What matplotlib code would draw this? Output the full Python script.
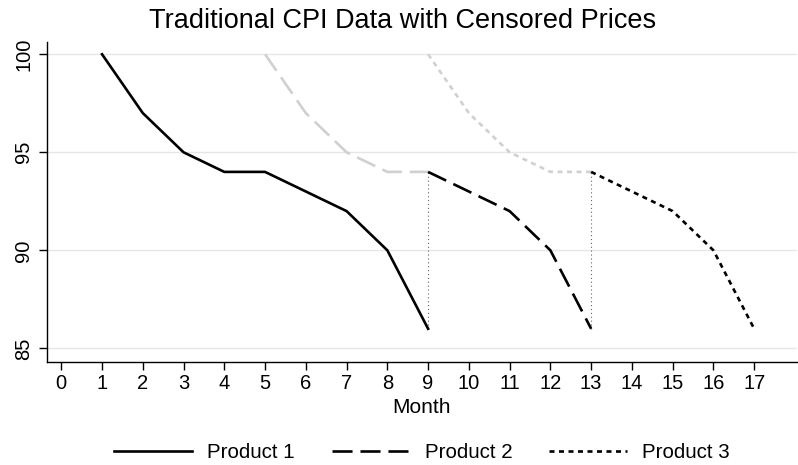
import numpy as np
import matplotlib
matplotlib.use('Agg')
import matplotlib.pyplot as plt

plt.rcParams['font.family'] = ['Liberation Sans', 'DejaVu Sans']

# prices
p1_month = [1, 2, 3, 4, 5, 6, 7, 8, 9]
p1_price = [100, 97, 95, 94, 94, 93, 92, 90, 86]

p2_cens_month = [5, 6, 7, 8, 9]
p2_cens_price = [100, 97, 95, 94, 94]
p2_month = [9, 10, 11, 12, 13]
p2_price = [94, 93, 92, 90, 86]

p3_cens_month = [9, 10, 11, 12, 13]
p3_cens_price = [100, 97, 95, 94, 94]
p3_month = [13, 14, 15, 16, 17]
p3_price = [94, 93, 92, 90, 86]

# link lines where a product drops out
link_month = [9, 13]
link_low = [86, 86]
link_high = [94, 94]

xticks = list(range(0, 18))
yticks = [85, 90, 95, 100]

fig = plt.figure(figsize=(7.98, 4.65), dpi=100)
ax = fig.add_axes([0.0589, 0.2222, 0.9398, 0.6881])

lw = 1.9
gray = '#d0d0d0'
dash2 = (0, (7.6, 3.0))
dash3 = (0, (1.9, 1.7))

for yt in yticks:
    ax.axhline(yt, color='#e6e6e6', lw=1.0, zorder=0)

ax.plot(p2_cens_month, p2_cens_price, color=gray, lw=lw, linestyle=dash2)
ax.plot(p3_cens_month, p3_cens_price, color=gray, lw=lw, linestyle=dash3)

ax.vlines(link_month, link_low, link_high, color='#666666', lw=0.8, linestyles=(0, (1, 2.5)))

l1, = ax.plot(p1_month, p1_price, color='black', lw=lw, linestyle='-', label='Product 1')
l2, = ax.plot(p2_month, p2_price, color='black', lw=lw, linestyle=dash2, label='Product 2')
l3, = ax.plot(p3_month, p3_price, color='black', lw=lw, linestyle=dash3, label='Product 3')

ax.set_xlim(-0.35, 18.05)
ax.set_ylim(84.32, 100.64)
ax.set_xticks(xticks)
ax.set_yticks(yticks)
ax.set_yticklabels([str(y) for y in yticks], rotation=90, va='center')
ax.tick_params(axis='both', labelsize=14.5, direction='out', length=6, width=1, color='black')
ax.tick_params(axis='x', pad=3)
ax.tick_params(axis='y', pad=4)

ax.spines['top'].set_visible(False)
ax.spines['right'].set_visible(False)
ax.spines['left'].set_linewidth(1)
ax.spines['bottom'].set_linewidth(1)

ax.set_xlabel('Month', fontsize=15, labelpad=3.5)

fig.text(0.505, 1 - 28 / 465, 'Traditional CPI Data with Censored Prices',
         fontsize=19.5, ha='center', va='baseline')

fig.legend(handles=[l1, l2, l3], loc='center', bbox_to_anchor=(0.0589 + 0.9398 / 2, 0.027), ncol=3,
           frameon=False, fontsize=14.8, handlelength=3.8, columnspacing=1.8, handletextpad=0.73)

plt.savefig('out.png', dpi=100)
